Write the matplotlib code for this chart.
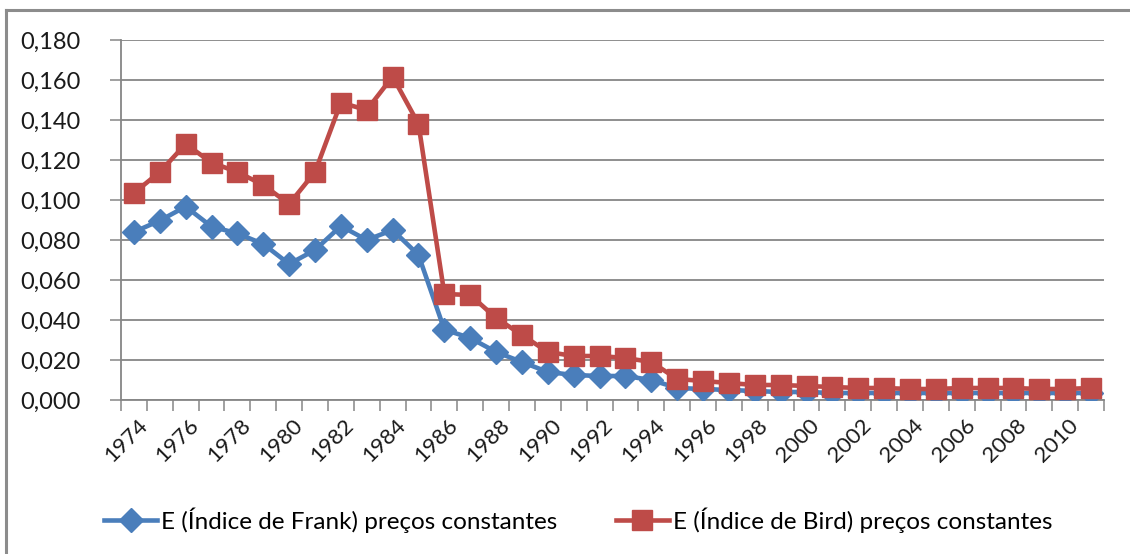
import matplotlib
matplotlib.use("Agg")
import matplotlib.pyplot as plt
from matplotlib.lines import Line2D
import matplotlib.transforms as mtransforms
import numpy as np

years = list(range(1974, 2012))
frank = [0.084, 0.0897, 0.0967, 0.0867, 0.0833, 0.078, 0.068, 0.075, 0.087, 0.080,
         0.085, 0.0725, 0.0352, 0.031, 0.024, 0.019, 0.014, 0.0125, 0.012, 0.012,
         0.010, 0.006, 0.0055, 0.005, 0.0045, 0.004, 0.004, 0.0035, 0.0035, 0.0035,
         0.0035, 0.0035, 0.0035, 0.0035, 0.0035, 0.0035, 0.0035, 0.0035]
bird = [0.1035, 0.114, 0.128, 0.1187, 0.114, 0.1075, 0.098, 0.114, 0.1487, 0.145,
        0.1617, 0.138, 0.053, 0.0525, 0.041, 0.0325, 0.024, 0.022, 0.022, 0.021,
        0.019, 0.0105, 0.0095, 0.0085, 0.0075, 0.0075, 0.007, 0.0065, 0.006, 0.006,
        0.0055, 0.0055, 0.006, 0.006, 0.006, 0.0055, 0.0055, 0.006]
yticks = [0.0, 0.02, 0.04, 0.06, 0.08, 0.10, 0.12, 0.14, 0.16, 0.18]
label_years = list(range(1974, 2012, 2))

plt.rcParams['font.family'] = ['Lato', 'DejaVu Sans']
W, H = 1130, 554
fig = plt.figure(figsize=(W / 100, H / 100), dpi=100)
ax = fig.add_axes([121 / W, 1 - 400 / H, (1104 - 121) / W, (400 - 40) / H])

blue = '#4A7EBB'
red = '#BE4B48'
grid = '#868686'
x = np.arange(len(years))

ax.plot(x, frank, color=blue, lw=3.3, marker='D', ms=12.5, mec=blue, mfc=blue, zorder=3)
ax.plot(x, bird, color=red, lw=3.3, marker='s', ms=15, mec=red, mfc=red, zorder=4)

ax.set_xlim(-0.5, len(years) - 0.5)
ax.set_ylim(0, 0.18)
ax.set_yticks(yticks)
ax.set_yticklabels([f"{v:.3f}".replace('.', ',') for v in yticks], fontsize=17, color='#1a1a1a')
ax.yaxis.grid(True, color=grid, lw=1.3)
ax.set_axisbelow(True)
ax.tick_params(axis='y', length=8, width=1.1, color=grid, pad=21)

# category boundary ticks
ax.set_xticks(np.arange(-0.5, len(years), 1.0), minor=True)
ax.tick_params(axis='x', which='minor', length=8, width=1.1, color=grid)
lab_pos = [years.index(y) for y in label_years]
ax.set_xticks(lab_pos)
ax.set_xticklabels([str(y) for y in label_years], rotation=45, ha='right',
                   rotation_mode='anchor', fontsize=16, color='#1a1a1a')
ax.tick_params(axis='x', which='major', length=0, pad=11)
for lab in ax.get_xticklabels():
    lab.set_transform(lab.get_transform() + mtransforms.ScaledTranslation(3 / 100, 0, fig.dpi_scale_trans))

for s in ['top', 'right']:
    ax.spines[s].set_visible(False)
for s in ['left', 'bottom']:
    ax.spines[s].set_color(grid)
    ax.spines[s].set_linewidth(1.3)

# outer frame (top and left visible)
fig.add_artist(Line2D([6 / W, 6 / W], [0, 1 - 10 / H], color='#8c8c8c', lw=2.2, transform=fig.transFigure))
fig.add_artist(Line2D([6 / W, 1], [1 - 10 / H, 1 - 10 / H], color='#8c8c8c', lw=2.2, transform=fig.transFigure))

handles = [Line2D([], [], color=blue, lw=3.3, marker='D', ms=12.5, mec=blue),
           Line2D([], [], color=red, lw=3.3, marker='s', ms=15, mec=red)]
labels = ['E (Índice de Frank) preços constantes', 'E (Índice de Bird) preços constantes']
fig.legend(handles, labels, loc='center left', bbox_to_anchor=(104 / W, 1 - 520 / H), ncol=2,
           frameon=False, fontsize=17.5, handlelength=2.2, handletextpad=0.15,
           columnspacing=2.4, borderaxespad=0, borderpad=0)

fig.savefig('out.png', dpi=100)
